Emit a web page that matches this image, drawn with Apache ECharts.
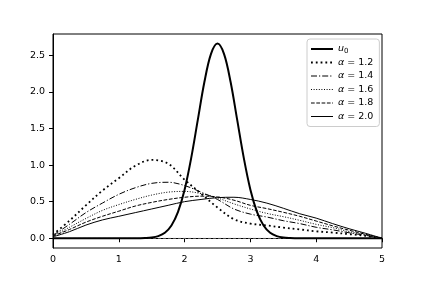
<!DOCTYPE html>
<html>
<head>
<meta charset="utf-8">
<script src="https://cdn.jsdelivr.net/npm/echarts@6/dist/echarts.min.js"></script>
<style>html,body{margin:0;padding:0;background:#fff}#c{width:425px;height:284px}</style>
</head>
<body>
<div id="c"></div>
<script>
// ---- data ----
var u0X = [0, 1.2, 1.3, 1.4, 1.5, 1.6, 1.7, 1.8, 1.9, 2.0, 2.1, 2.2, 2.3, 2.4, 2.5, 2.6, 2.7, 2.8, 2.9, 3.0, 3.1, 3.2, 3.3, 3.4, 3.5, 3.6, 3.7, 3.8, 5];
var u0Y = [0, 0, 0.001, 0.003, 0.010, 0.030, 0.076, 0.175, 0.360, 0.663, 1.094, 1.613, 2.130, 2.516, 2.660, 2.516, 2.130, 1.613, 1.094, 0.663, 0.360, 0.175, 0.076, 0.030, 0.010, 0.003, 0.001, 0, 0];

var alphaX = [0, 0.25, 0.5, 0.75, 1.0, 1.25, 1.5, 1.75, 2.0, 2.25, 2.5, 2.75, 3.0, 3.25, 3.5, 3.75, 4.0, 4.25, 4.5, 4.75, 5.0];
var a12 = [0.05, 0.24, 0.45, 0.65, 0.82, 0.99, 1.07, 1.02, 0.80, 0.61, 0.42, 0.26, 0.20, 0.175, 0.145, 0.12, 0.095, 0.078, 0.056, 0.033, 0.0];
var a14 = [0.04, 0.19, 0.35, 0.48, 0.60, 0.69, 0.75, 0.765, 0.72, 0.63, 0.53, 0.40, 0.33, 0.29, 0.24, 0.20, 0.15, 0.115, 0.075, 0.04, 0.0];
var a16 = [0.03, 0.15, 0.27, 0.38, 0.46, 0.53, 0.59, 0.63, 0.64, 0.61, 0.55, 0.47, 0.40, 0.34, 0.295, 0.245, 0.19, 0.145, 0.09, 0.05, 0.0];
var a18 = [0.03, 0.12, 0.22, 0.30, 0.37, 0.44, 0.49, 0.53, 0.56, 0.575, 0.565, 0.52, 0.45, 0.405, 0.355, 0.30, 0.235, 0.17, 0.11, 0.055, 0.0];
var a20 = [0.02, 0.09, 0.18, 0.25, 0.30, 0.35, 0.40, 0.45, 0.50, 0.53, 0.555, 0.56, 0.53, 0.48, 0.41, 0.335, 0.275, 0.20, 0.13, 0.068, 0.0];

var names = ['u0', 'α = 1.2', 'α = 1.4', 'α = 1.6', 'α = 1.8', 'α = 2.0'];
var xTicks = [0, 1, 2, 3, 4, 5];
var yTicks = [0, 0.5, 1.0, 1.5, 2.0, 2.5];

function pairs(xs, ys) { return xs.map(function (x, i) { return [x, ys[i]]; }); }

var chart = echarts.init(document.getElementById('c'), null, { renderer: 'canvas' });
var font = 'DejaVu Sans';
var styles = [
  { w: 2, t: 'solid' },
  { w: 1.8, t: [1.8, 3] },
  { w: 1, t: [6, 2, 1.2, 2] },
  { w: 1, t: [1, 1.6] },
  { w: 1, t: [3.7, 1.6] },
  { w: 1, t: 'solid' }
];
function line(idx, xs, ys, z) {
  var s = styles[idx];
  return {
    name: names[idx], type: 'line', data: pairs(xs, ys), smooth: 0.35, symbol: 'circle', showSymbol: false,
    lineStyle: { color: '#000', width: s.w, type: s.t, cap: 'butt' },
    itemStyle: { color: 'rgba(0,0,0,0)', borderWidth: 0 }, z: z, silent: true, animation: false
  };
}
chart.setOption({
  animation: false,
  grid: { left: 53, right: 43, top: 34, bottom: 36, show: true, borderColor: '#000', borderWidth: 1, backgroundColor: 'transparent' },
  xAxis: {
    type: 'value', min: 0, max: 5, interval: 1,
    axisLine: { show: true, lineStyle: { color: '#000', width: 1 } },
    axisTick: { show: true, length: 4, inside: false, lineStyle: { color: '#000' }, customValues: xTicks },
    axisLabel: { color: '#000', fontFamily: font, fontSize: 9.5, margin: 7, customValues: xTicks },
    splitLine: { show: false }
  },
  yAxis: {
    type: 'value', min: -0.133, max: 2.79,
    axisLine: { show: true, lineStyle: { color: '#000', width: 1 } },
    axisTick: { show: true, length: 4, lineStyle: { color: '#000' }, customValues: yTicks },
    axisLabel: { color: '#000', fontFamily: font, fontSize: 9.5, margin: 8, customValues: yTicks,
      formatter: function (v) { return v.toFixed(1); } },
    splitLine: { show: false }
  },
  legend: {
    data: names.map(function (n, i) {
      return { name: n, lineStyle: { width: styles[i].w, type: styles[i].t, color: '#000', cap: 'butt' } };
    }),
    left: 307, top: 39, orient: 'vertical',
    backgroundColor: '#fff', borderColor: '#ccc', borderWidth: 1, borderRadius: 3,
    padding: [4, 6, 4, 3], itemWidth: 22, itemHeight: 10, itemGap: 1.5,
    itemStyle: { opacity: 0, borderWidth: 0 },
    textStyle: {
      fontFamily: font, fontSize: 9.5, color: '#000', lineHeight: 12,
      rich: {
        i: { fontFamily: font, fontSize: 9.5, fontStyle: 'italic', color: '#000' },
        n: { fontFamily: font, fontSize: 9.5, color: '#000' },
        s: { fontFamily: font, fontSize: 7, color: '#000', padding: [5, 0, 0, 0] }
      }
    },
    formatter: function (name) {
      if (name === 'u0') return '{i|u}{s|0}';
      return '{i|α}{n|' + name.slice(1) + '}';
    }
  },
  series: [
    { name: 'zero', type: 'line', data: [[0, 0], [5, 0]], symbol: 'none', silent: true,
      lineStyle: { color: '#bbb', width: 0.6, type: [3, 2] }, z: 1 },
    line(0, u0X, u0Y, 10),
    line(1, alphaX, a12, 5),
    line(2, alphaX, a14, 5),
    line(3, alphaX, a16, 5),
    line(4, alphaX, a18, 5),
    line(5, alphaX, a20, 5)
  ]
});
</script>
</body>
</html>
